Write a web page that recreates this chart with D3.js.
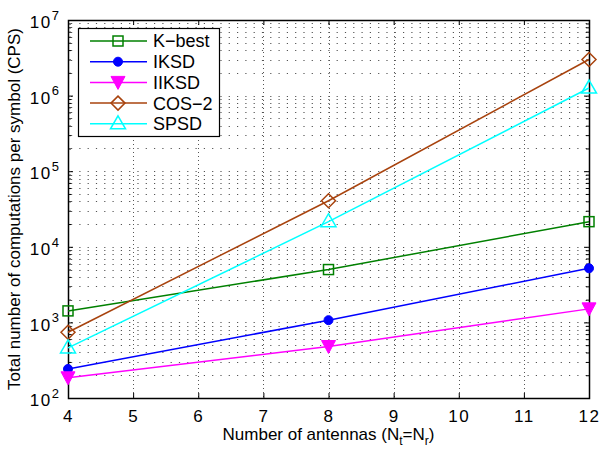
<!DOCTYPE html>
<html>
<head>
<meta charset="utf-8">
<script src="https://cdn.jsdelivr.net/npm/d3@7"></script>
<style>
  body { margin: 0; background: #fff; }
  text { font-family: "Liberation Sans", Arial, sans-serif; }
</style>
</head>
<body>
<div class="canvas"></div>
<script>
// data
const antennas = [4, 8, 12];
const kbest = [1420, 5000, 21500];
const iksd = [242, 1070, 5200];
const iiksd = [185, 480, 1510];
const cos2 = [740, 40700, 3000000];
const spsd = [460, 21500, 1260000];
const seriesNames = ['K\u2212best', 'IKSD', 'IIKSD', 'COS\u22122', 'SPSD'];
const xTicks = [4, 5, 6, 7, 8, 9, 10, 11, 12];
const yTicks = [1e2, 1e3, 1e4, 1e5, 1e6, 1e7];

const WIDTH = 602, HEIGHT = 449;
const MARGIN = { left: 68, right: 13, top: 20, bottom: 51 };
const GW = WIDTH - MARGIN.left - MARGIN.right;
const GH = HEIGHT - MARGIN.top - MARGIN.bottom;

const svg = d3.select('.canvas').append('svg')
  .attr('width', WIDTH)
  .attr('height', HEIGHT);

const graph = svg.append('g')
  .attr('transform', `translate(${MARGIN.left}, ${MARGIN.top})`);

//scales
const x = d3.scaleLinear().domain([4, 12]).range([0, GW]);
const y = d3.scaleLog().domain([1e2, 1e7]).range([GH, 0]);

// minor log values
const minor = [];
for (let e = 2; e < 7; e++) for (let m = 2; m <= 9; m++) minor.push(m * Math.pow(10, e));

//grid
const grid = graph.append('g').attr('class', 'grid')
  .attr('stroke', '#555').attr('stroke-width', 1);
grid.selectAll('.gy').data(minor.concat(yTicks.slice(1, -1))).enter().append('line')
  .attr('stroke-dasharray', '1.2,7.1')
  .attr('x1', 3).attr('x2', GW)
  .attr('y1', d => Math.round(y(d)) + 0.5).attr('y2', d => Math.round(y(d)) + 0.5);
grid.selectAll('.gx').data(xTicks.slice(1, -1)).enter().append('line')
  .attr('stroke-dasharray', '1,3')
  .attr('y1', 0).attr('y2', GH)
  .attr('x1', d => Math.round(x(d)) + 0.5).attr('x2', d => Math.round(x(d)) + 0.5);

//axes (ticks inside, mirrored)
const xAxisGroup = graph.append('g')
  .attr('transform', `translate(0, ${GH})`)
  .call(d3.axisBottom(x).tickValues(xTicks).tickSize(-5).tickPadding(12).tickFormat(d3.format('d')));
graph.append('g')
  .call(d3.axisTop(x).tickValues(xTicks).tickSize(-5).tickFormat(''));
const yAxisGroup = graph.append('g')
  .call(d3.axisLeft(y).tickValues(yTicks).tickSize(-5).tickPadding(8).tickFormat(''));
graph.append('g')
  .attr('transform', `translate(${GW}, 0)`)
  .call(d3.axisRight(y).tickValues(yTicks).tickSize(-5).tickFormat(''));
graph.append('g')
  .call(d3.axisLeft(y).tickValues(minor).tickSize(-3).tickFormat(''));
graph.append('g')
  .attr('transform', `translate(${GW}, 0)`)
  .call(d3.axisRight(y).tickValues(minor).tickSize(-3).tickFormat(''));

graph.selectAll('.domain').remove();
graph.selectAll('.tick line').attr('stroke', '#000');
xAxisGroup.selectAll('text').attr('font-size', 17).attr('letter-spacing', 1.5).attr('fill', '#000');

// y tick labels 10^n
yAxisGroup.selectAll('.tick').each(function(d) {
  const t = d3.select(this).append('text')
    .attr('x', -9).attr('dy', '0.45em')
    .attr('text-anchor', 'end').attr('fill', '#000').attr('font-size', 17);
  t.append('tspan').attr('letter-spacing', 1.5).text('10');
  t.append('tspan').attr('dy', '-0.65em').attr('font-size', 13).text(Math.round(Math.log10(d)));
});

// frame
graph.append('rect')
  .attr('x', 0.5).attr('y', 0.5).attr('width', GW).attr('height', GH)
  .attr('fill', 'none').attr('stroke', '#000').attr('stroke-width', 1.5);

// series
const series = [
  { name: seriesNames[0], values: kbest, color: '#008000', marker: 'square' },
  { name: seriesNames[1], values: iksd, color: '#0000ff', marker: 'circle' },
  { name: seriesNames[2], values: iiksd, color: '#ff00ff', marker: 'tdown' },
  { name: seriesNames[3], values: cos2, color: '#a8430e', marker: 'diamond' },
  { name: seriesNames[4], values: spsd, color: '#00ffff', marker: 'tup' }
];

const line = d3.line()
  .x(d => x(d[0]))
  .y(d => y(d[1]));

function drawMarker(sel, type, color) {
  if (type === 'square') {
    sel.append('rect').attr('x', -5).attr('y', -5).attr('width', 10).attr('height', 10)
      .attr('fill', 'none').attr('stroke', color).attr('stroke-width', 1.5);
  } else if (type === 'circle') {
    sel.append('circle').attr('r', 4.5).attr('fill', color).attr('stroke', color);
  } else if (type === 'tdown') {
    sel.append('path').attr('d', 'M-7,-6L7,-6L0,7Z').attr('fill', color).attr('stroke', color);
  } else if (type === 'diamond') {
    sel.append('path').attr('d', 'M0,-7L7,0L0,7L-7,0Z')
      .attr('fill', 'none').attr('stroke', color).attr('stroke-width', 1.5);
  } else if (type === 'tup') {
    sel.append('path').attr('d', 'M0,-8L7.5,5L-7.5,5Z')
      .attr('fill', 'none').attr('stroke', color).attr('stroke-width', 1.5);
  }
}

series.forEach(s => {
  const pts = antennas.map((a, i) => [a, s.values[i]]);
  graph.append('path').datum(pts)
    .attr('d', line).attr('fill', 'none')
    .attr('stroke', s.color).attr('stroke-width', 1.5);
  pts.forEach(p => {
    const g = graph.append('g').attr('transform', `translate(${x(p[0])}, ${y(p[1])})`);
    drawMarker(g, s.marker, s.color);
  });
});

// legend
const legend = svg.append('g').attr('transform', 'translate(78, 28)');
legend.append('rect')
  .attr('x', 0.5).attr('y', 0.5).attr('width', 141).attr('height', 108)
  .attr('fill', '#fff').attr('stroke', '#000').attr('stroke-width', 1.2);
series.forEach((s, i) => {
  const ly = 13 + i * 20.7;
  legend.append('line').attr('x1', 12).attr('x2', 69).attr('y1', ly).attr('y2', ly)
    .attr('stroke', s.color).attr('stroke-width', 1.5);
  const g = legend.append('g').attr('transform', `translate(40, ${ly})`);
  drawMarker(g, s.marker, s.color);
  legend.append('text').attr('x', 75).attr('y', ly).attr('dy', '0.36em')
    .attr('font-size', 18).attr('fill', '#000').text(s.name);
});

// axis labels
const xl = svg.append('text')
  .attr('x', MARGIN.left + GW / 2).attr('y', 440)
  .attr('text-anchor', 'middle').attr('font-size', 17).attr('fill', '#000');
xl.append('tspan').text('Number of antennas (N');
xl.append('tspan').attr('dy', 5).attr('font-size', 12).text('t');
xl.append('tspan').attr('dy', -5).text('=N');
xl.append('tspan').attr('dy', 5).attr('font-size', 12).text('r');
xl.append('tspan').attr('dy', -5).text(')');

svg.append('text')
  .attr('transform', `translate(20, ${MARGIN.top + GH / 2}) rotate(-90)`)
  .attr('text-anchor', 'middle').attr('font-size', 17).attr('fill', '#000')
  .text('Total number of computations per symbol (CPS)');
</script>
</body>
</html>
